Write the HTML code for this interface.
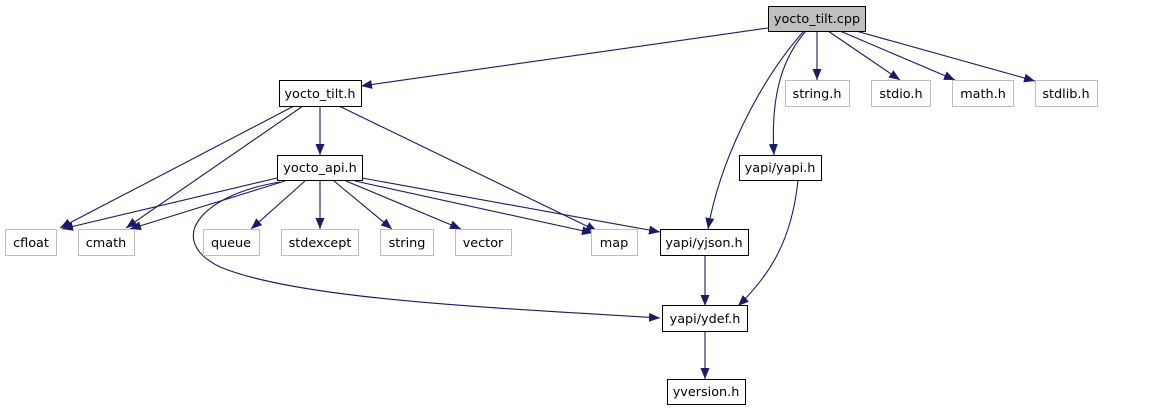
<!DOCTYPE html>
<html><head><meta charset="utf-8"><style>
html,body{margin:0;padding:0;background:#fff;width:1155px;height:411px;overflow:hidden}
svg text{font-family:"DejaVu Sans","Liberation Sans",sans-serif;font-size:12.8px;text-anchor:middle}
</style></head><body>
<svg width="1155" height="411" viewBox="0 0 1155 411" xmlns="http://www.w3.org/2000/svg">
<defs><marker id="a" markerWidth="11" markerHeight="9" refX="11" refY="4.5" orient="auto" markerUnits="userSpaceOnUse"><path d="M0,0L11,4.5L0,9z" fill="#191970"/></marker></defs>
<g fill="none" stroke="#191970" stroke-width="1.1" marker-end="url(#a)">
<path d="M768,28L361,86"/>
<path d="M817,31L817,80"/>
<path d="M828,31L900,80"/>
<path d="M840,31L955,80"/>
<path d="M856,31L1035,81"/>
<path d="M806,31C785,55 770,90 774,155"/>
<path d="M804,31C760,80 720,160 708,229"/>
<path d="M320,106L320,155"/>
<path d="M294,106L60,228"/>
<path d="M303,106L126,228"/>
<path d="M339,106L597,231"/>
<path d="M277,178L62,229"/>
<path d="M285,181L130,229"/>
<path d="M305,181L251,229"/>
<path d="M320,181L320,229"/>
<path d="M334,181L392,229"/>
<path d="M346,181L461,229"/>
<path d="M355,181L593,233"/>
<path d="M362,178L660,232"/>
<path d="M280,182C200,195 165,240 220,267C300,300 500,308 660,318"/>
<path d="M705,255L705,306"/>
<path d="M798,180C792,240 770,275 738,306"/>
<path d="M705,331L705,379"/>
</g>
<g stroke-width="1">
<rect x="768.5" y="6.5" width="97" height="25" fill="#bfbfbf" stroke="#000"/>
<g fill="#fff" stroke="#000">
<rect x="279.5" y="80.5" width="82" height="26"/>
<rect x="277.5" y="155.5" width="85" height="25"/>
<rect x="739.5" y="155.5" width="82" height="25"/>
<rect x="660.5" y="229.5" width="88" height="26"/>
<rect x="662.5" y="305.5" width="85" height="26"/>
<rect x="667.5" y="379.5" width="78" height="25"/>
</g>
<g fill="#fff" stroke="#bfbfbf">
<rect x="785.5" y="80.5" width="64" height="26"/>
<rect x="871.5" y="80.5" width="59" height="26"/>
<rect x="952.5" y="80.5" width="61" height="26"/>
<rect x="1035.5" y="80.5" width="62" height="26"/>
<rect x="5.5" y="229.5" width="51" height="26"/>
<rect x="78.5" y="229.5" width="56" height="26"/>
<rect x="203.5" y="229.5" width="56" height="26"/>
<rect x="281.5" y="229.5" width="77" height="26"/>
<rect x="380.5" y="229.5" width="53" height="26"/>
<rect x="455.5" y="229.5" width="56" height="26"/>
<rect x="591.5" y="229.5" width="46" height="26"/>
</g>
</g>
<g fill="#000">
<text x="817" y="23">yocto_tilt.cpp</text>
<text x="320" y="98">yocto_tilt.h</text>
<text x="320" y="172">yocto_api.h</text>
<text x="780" y="172">yapi/yapi.h</text>
<text x="704" y="247">yapi/yjson.h</text>
<text x="705" y="323">yapi/ydef.h</text>
<text x="706" y="396">yversion.h</text>
<text x="817" y="98">string.h</text>
<text x="901" y="98">stdio.h</text>
<text x="983" y="98">math.h</text>
<text x="1066" y="98">stdlib.h</text>
<text x="31" y="247">cfloat</text>
<text x="106" y="247">cmath</text>
<text x="231" y="247">queue</text>
<text x="320" y="247">stdexcept</text>
<text x="407" y="247">string</text>
<text x="483" y="247">vector</text>
<text x="614" y="247">map</text>
</g>
</svg>
</body></html>
